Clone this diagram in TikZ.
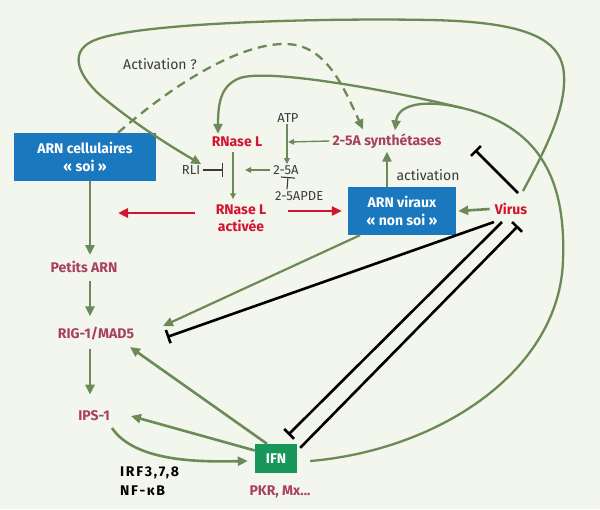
\documentclass[tikz,border=0pt]{standalone}
\usepackage{fontspec}
\setmainfont{Fira Sans}
\usetikzlibrary{arrows.meta}
\definecolor{bgc}{HTML}{F3F6EC}
\definecolor{lg}{HTML}{6B8A58}
\definecolor{rd}{HTML}{D3132F}
\definecolor{mv}{HTML}{A8405E}
\definecolor{bl}{HTML}{1A78BE}
\definecolor{gb}{HTML}{17975A}
\definecolor{tx}{HTML}{3A3A3A}
\begin{document}
\begin{tikzpicture}[x=1pt,y=-1pt,
 gl/.style={draw=lg,line width=2.6pt,-{Triangle[length=10pt,width=9pt]}},
 gc/.style={draw=lg,line width=2.3pt,-{Triangle[length=10pt,width=9pt]}},
 gs/.style={draw=lg,line width=1.4pt,-{Triangle[length=6pt,width=5.5pt]}},
 rl/.style={draw=rd,line width=2.8pt,-{Triangle[length=10pt,width=9pt]}},
 kb/.style={draw=black,line width=2.6pt,-{Bar[width=14pt,line width=2.6pt]}},
 kbs/.style={draw=tx,line width=1.1pt,-{Bar[width=14pt,line width=1.1pt]}},
 bbox/.style={fill=bl,text=white,font=\fontsize{14}{18}\selectfont\bfseries,align=center,inner sep=0pt},
 lab/.style={text=tx,font=\fontsize{14}{17}\selectfont,inner sep=1pt},
 slab/.style={text=tx,font=\fontsize{13}{16}\selectfont,inner sep=1pt},
 mlab/.style={text=mv,font=\fontsize{14}{17}\selectfont\bfseries,inner sep=1pt},
 rlab/.style={text=rd,font=\fontsize{14}{17}\selectfont\bfseries,inner sep=1pt,align=center},
 klab/.style={text=black,font=\fontsize{14}{19}\selectfont\bfseries\addfontfeature{LetterSpace=12},inner sep=1pt,align=left},
]
\fill[bgc] (0,0) rectangle (600,509);
\useasboundingbox (0,0) rectangle (600,509);

% nodes
\node[bbox,minimum width=142pt,minimum height=48pt] (soi) at (85,157) {ARN cellulaires\\« soi »};
\node[bbox,minimum width=108pt,minimum height=48pt] (nonsoi) at (402,211) {ARN viraux\\« non soi »};
\node[fill=gb,text=white,font=\fontsize{14}{17}\selectfont\bfseries,minimum width=42pt,minimum height=29pt,inner sep=0pt] (ifn) at (276,458.5) {IFN};
\node[lab] (actq) at (160,64) {Activation ?};
\node[slab] (atp) at (288,118) {ATP};
\node[rlab] (rnl) at (237,142) {RNase L};
\node[mlab] (synth) at (387,141) {2-5A synthétases};
\node[slab] (rli) at (191,170) {RLI};
\node[slab] (a25) at (286,170) {2-5A};
\node[slab,anchor=west] (apde) at (274,196) {2-5APDE};
\node[lab] (activ) at (428,175) {activation};
\node[rlab] (rna) at (241,218) {RNase L\\activée};
\node[rlab] (virus) at (511,209) {Virus};
\node[mlab] (petits) at (84,267) {Petits ARN};
\node[mlab] (rig) at (96,334) {RIG-1/MAD5};
\node[mlab] (ips) at (94,416) {IPS-1};
\node[klab,anchor=west] (irf) at (119,481) {IRF3,7,8\\NF-κB};
\node[mlab] (pkr) at (280,492) {PKR, Mx...};

% big outer loop: Virus -> RLI
\draw[gc] (523,191) .. controls (545,150) and (566,110) .. (564,75)
  .. controls (562,40) and (530,22) .. (430,20)
  .. controls (330,18) and (140,22) .. (95,40)
  .. controls (70,50) and (75,72) .. (100,95)
  .. controls (130,120) and (160,140) .. (rli.north east);

% IFN -> RNase L loop
\draw[gc] ([xshift=13pt,yshift=-2.5pt]ifn.east) .. controls (440,450) and (560,370) .. (563,260)
  .. controls (566,180) and (540,130) .. (470,110)
  .. controls (400,92) and (270,68) .. (240,78)
  .. controls (222,85) and (218,100) .. ([xshift=-19pt,yshift=2pt]rnl.north);
% branch to synthetases
\draw[gc] (462,108) .. controls (425,99) and (398,104) .. ([xshift=8pt,yshift=2pt]synth.north);

% dashed activation ?
\draw[gc,dash pattern=on 9pt off 6pt] ([xshift=33pt]soi.north) .. controls (190,70) and (260,35) .. (300,46)
  .. controls (330,55) and (345,90) .. ([xshift=-24pt,yshift=3pt]synth.north);

% left column
\draw[gl] ([xshift=5pt]soi.south) -- ([xshift=6pt,yshift=5pt]petits.north);
\draw[gl] ([xshift=6pt,yshift=-7pt]petits.south) -- ([xshift=-6pt,yshift=10pt]rig.north);
\draw[gl] ([xshift=-6pt,yshift=-7pt]rig.south) -- ([xshift=-4pt,yshift=15pt]ips.north);

% IFN arrows
\draw[gl] ([xshift=-9pt]ifn.north) -- (130,347);
\draw[gl] ([yshift=8pt]ifn.west) -- ([xshift=20pt]ips.east);
\draw[gl] (112,428) .. controls (135,462) and (200,462) .. ([xshift=-7pt,yshift=-2.5pt]ifn.west);

% ARN viraux -> RIG
\draw[draw=lg,line width=2.2pt,-{Triangle[length=10pt,width=9pt]}] ([xshift=-42pt]nonsoi.south) -- (163,326);

% virus -> ARN viraux
\draw[gl] ([xshift=-4pt]virus.west) -- ([xshift=2pt]nonsoi.east);
% ARN viraux -> synthetases
\draw[gl] ([xshift=-15pt]nonsoi.north) -- ([xshift=0pt,yshift=-2pt]synth.south);

% inner small arrows
\draw[gs] ([xshift=-1pt]atp.south) -- ([xshift=1pt]a25.north);
\draw[gs] ([xshift=-2pt]synth.west) -- (288,142);
\draw[gs] ([xshift=-2pt]a25.west) -- (245,170);
\draw[gs] ([xshift=-4pt,yshift=-4pt]rnl.south) -- ([xshift=-8pt,yshift=4pt]rna.north);
\draw[kbs] ([xshift=2pt]rli.east) -- (223,170);
\draw[kbs] ([xshift=13pt,yshift=1pt]apde.north west) -- (288,177);

% red arrows
\draw[rl] ([xshift=-20pt,yshift=5pt]rna.west) -- (118,213);
\draw[rl] ([xshift=21pt,yshift=7pt]rna.east) -- ([xshift=-6pt]nonsoi.west);

% black inhibitions
\draw[kb] (518,193) -- (475,150);
\draw[kb] (494,222) -- (167,337);
\draw[kb] (502,222) -- ([xshift=-9pt,yshift=9pt]ifn.north east);
\draw[kb] ([xshift=3pt,yshift=-4pt]ifn.north east) -- (518,226);
\end{tikzpicture}
\end{document}
